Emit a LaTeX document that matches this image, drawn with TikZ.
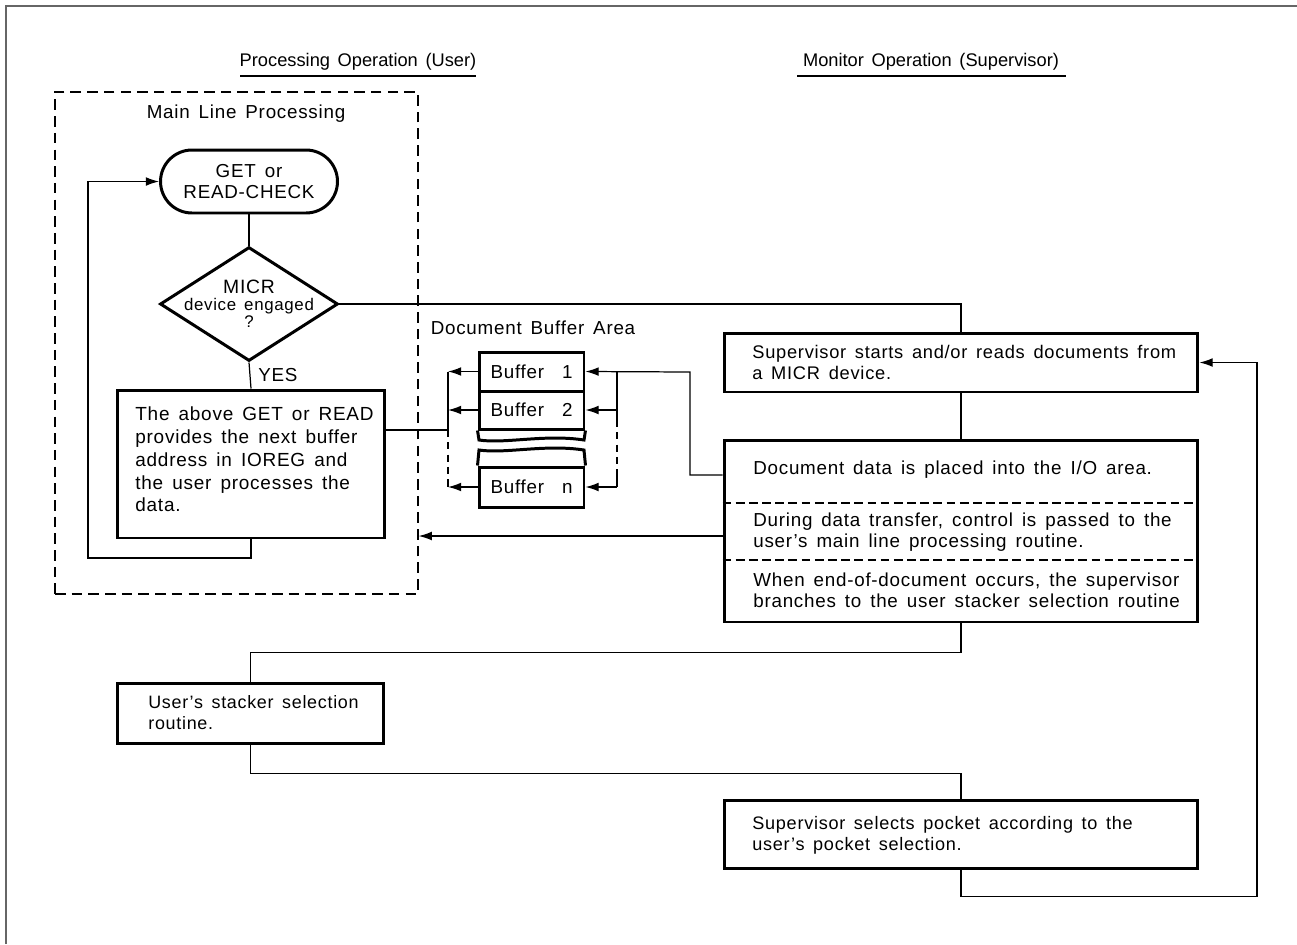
\documentclass[tikz,border=0pt]{standalone}
\usepackage{fontspec}
\setmainfont{Liberation Sans}[LetterSpace=4,WordSpace=1.5]
\usetikzlibrary{arrows.meta,shapes.geometric}

\begin{document}
\begin{tikzpicture}[x=0.02cm,y=-0.02cm,
  every node/.style={font=\fontsize{10.7}{12}\selectfont},
  heavy/.style={draw,line width=1.7pt,rectangle,inner sep=0pt},
  thin/.style={line width=0.7pt},
  arr/.style={thin,-{Latex[length=7.5pt,width=5pt]}},
  frame/.style={draw=black!60,line width=0.6pt},
  sep/.style={line width=0.8pt,dash pattern=on 5pt off 2.5pt},
  lane/.style={draw,line width=0.8pt,dash pattern=on 6pt off 3.5pt},
  header/.style={font=\fontsize{10.4}{12}\selectfont\addfontfeature{LetterSpace=0}},
  plain/.style={inner sep=0pt,align=left,anchor=west}
]
\useasboundingbox (0,0) rectangle (1297,944);

% page frame
\draw[frame] (6,944) -- (6,6) -- (1297,6);

% column headings
\node[header,inner sep=0pt] (hUser) at (358,62) {Processing Operation (User)};
\node[header,inner sep=0pt] (hSup) at (931,62) {Monitor Operation (Supervisor)};
\draw[line width=0.8pt] (240,76) -- (476,76);
\draw[line width=0.8pt] (797,76) -- (1066,76);

% main line processing area
\node[lane,minimum width=7.26cm,minimum height=10.04cm] (mainarea) at (236.5,343) {};
\node[inner sep=0pt] (mainlbl) at (246,114) {Main Line Processing};

\node[draw,line width=1.7pt,rounded corners=0.63cm,minimum width=3.54cm,
      minimum height=1.26cm,align=center,inner sep=0pt,
      font=\fontsize{10.7}{12}\selectfont] (term) at (249,181.5) {GET or\\READ-CHECK};

\node[draw,diamond,line width=1.7pt,minimum width=3.56cm,minimum height=2.28cm,
      inner sep=0pt] (dia) at (249,304) {};
\node[align=center,inner sep=0pt,font=\fontsize{9.6}{9.6}\selectfont] (diatxt) at (249,304)
      {{\fontsize{11}{10}\selectfont MICR}\\device engaged\\?};
\node[inner sep=0pt,anchor=west] (yes) at (258,375) {YES};

\node[heavy,minimum width=5.36cm,minimum height=2.96cm] (proc) at (251,464) {};
\node[plain,font=\fontsize{10.8}{13}\selectfont] (proctxt) at (135,459.5)
  {The above GET or READ\\provides the next buffer\\address in IOREG and\\the user processes the\\data.};

% document buffer area
\node[inner sep=0pt] (buflbl) at (533,328) {Document Buffer Area};
\node[heavy,minimum width=2.1cm,minimum height=0.78cm] (buf1) at (531.5,371.5) {Buffer\ \ 1};
\node[heavy,minimum width=2.1cm,minimum height=0.76cm] (buf2) at (531.5,410) {Buffer\ \ 2};
\node[heavy,minimum width=2.1cm,minimum height=0.8cm] (bufn) at (531.5,487) {Buffer\ \ n};
\draw[line width=1.7pt] (buf2.south west) -- (479,440)
   .. controls (505,444) and (545,434) .. (584,440) -- (buf2.south east);
\draw[line width=1.7pt] (bufn.north west) -- (479,450)
   .. controls (505,454) and (545,444) .. (584,450) -- (bufn.north east);

% supervisor side
\node[heavy,minimum width=9.48cm,minimum height=1.18cm] (sup) at (961,362.5) {};
\node[plain,font=\fontsize{10.4}{12}\selectfont] (suptxt) at (752,362)
  {Supervisor starts and/or reads documents from\\a MICR device.};

\node[heavy,minimum width=9.48cm,minimum height=3.64cm] (io) at (961,531) {};
\node[plain] (io1) at (753,470) {Document data is placed into the I/O area.};
\node[plain] (io2) at (753,532.5) {During data transfer, control is passed to the\\user's main line processing routine.};
\node[plain] (io3) at (753,590.5) {When end-of-document occurs, the supervisor\\branches to the user stacker selection routine};
\draw[sep] (io.west |- 0,503) -- (io.east |- 0,503);
\draw[sep] (io.west |- 0,560) -- (io.east |- 0,560);

\node[heavy,minimum width=5.34cm,minimum height=1.2cm] (stack) at (250.5,713) {};
\node[plain,font=\fontsize{10.2}{12}\selectfont] (stacktxt) at (148,712.5)
  {User's stacker selection\\routine.};

\node[heavy,minimum width=9.48cm,minimum height=1.36cm] (pock) at (961,834) {};
\node[plain,font=\fontsize{10.3}{12}\selectfont] (pocktxt) at (752,835.5)
  {Supervisor selects pocket according to the\\user's pocket selection.};

% connectors: main line
\draw[thin] (term.south) -- (dia.north);
\draw[thin] (dia.south) -- (proc.north);
\coordinate (loopcorner) at (88,558);
\draw[arr] (proc.south) |- (loopcorner) |- (term.west);
\draw[thin] (dia.east) -| (sup.north);
\draw[thin] (sup.south) -- (io.north);

% connectors: buffers, read side
\coordinate (lbus) at (448,430);
\draw[thin] (proc.east |- lbus) -- (lbus);
\draw[thin] (448,372) -- (448,430);
\draw[thin,dash pattern=on 4pt off 3pt] (448,430) -- (448,480);
\draw[thin] (448,480) -- (448,487);
\draw[arr] (buf1.west) -- (buf1.west -| lbus);
\draw[arr] (buf2.west) -- (buf2.west -| lbus);
\draw[arr] (bufn.west) -- (bufn.west -| lbus);

% connectors: buffers, fill side
\coordinate (rbus) at (617,372);
\coordinate (feed) at (690,372);
\draw[arr] (io.west |- 0,475) -| (feed) -- (buf1.east);
\draw[thin] (rbus) -- (617,420);
\draw[thin,dash pattern=on 4pt off 3pt] (617,420) -- (617,470);
\draw[thin] (617,470) -- (617,487);
\draw[arr] (buf2.east -| rbus) -- (buf2.east);
\draw[arr] (bufn.east -| rbus) -- (bufn.east);

% connectors: control return and stacker selection
\draw[arr] (io.west |- 0,536) -- (mainarea.east |- 0,536);
\draw[thin] (io.south) -- ++(0,29) -| (stack.north);
\draw[thin] (stack.south) -- ++(0,29) -| (pock.north);
\coordinate (retcorner) at (1257,362.5);
\draw[arr] (pock.south) -- ++(0,27) -| (retcorner) -- (sup.east);
\end{tikzpicture}
\end{document}
